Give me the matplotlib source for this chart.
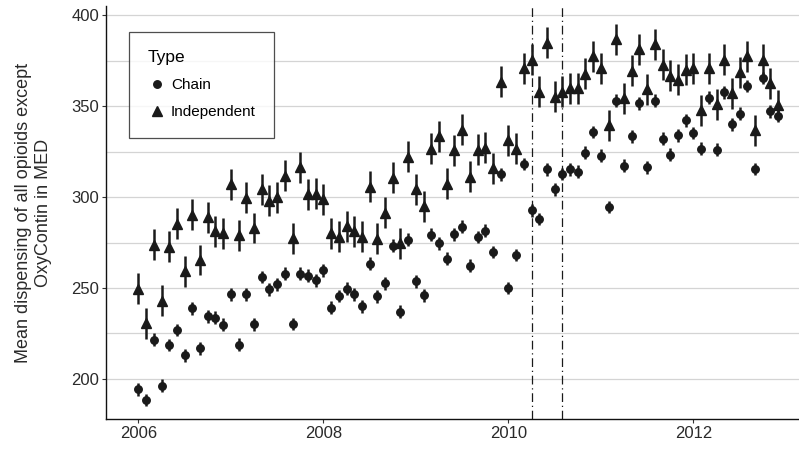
import matplotlib
matplotlib.use('Agg')
import matplotlib.pyplot as plt
from matplotlib.lines import Line2D
import pandas as pd

# monthly means, Jan 2006 - Dec 2012
months = pd.date_range('2006-01-01', '2012-12-01', freq='MS')

chain = [194.3, 188.5, 221.5, 196.3, 218.7, 226.9, 213.1, 238.9, 216.9, 234.4, 233.7, 229.8,
         246.5, 218.9, 246.5, 230.0, 256.1, 249.3, 252.0, 257.8, 230.2, 257.8, 256.7, 254.3,
         259.8, 239.1, 245.6, 249.6, 246.5, 240.0, 263.3, 245.4, 252.6, 273.3, 237.0, 276.5,
         253.7, 246.0, 279.3, 274.6, 266.1, 279.6, 283.7, 262.2, 278.0, 281.5, 269.8, 312.4,
         250.0, 268.1, 318.1, 292.8, 288.0, 315.2, 304.3, 312.6, 315.2, 313.9, 324.4, 335.7,
         322.8, 294.6, 353.0, 317.2, 333.3, 351.5, 316.3, 353.0, 332.1, 323.3, 333.9, 342.2,
         335.2, 326.5, 354.6, 326.1, 357.6, 340.0, 345.9, 361.1, 315.4, 365.4, 347.2, 344.6]

independent = [249.6, 230.7, 273.7, 243.1, 272.8, 285.4, 259.3, 290.4, 265.4, 288.9, 281.1, 280.2,
               307.0, 278.9, 299.6, 283.0, 304.3, 298.1, 300.0, 311.7, 277.4, 316.3, 301.5, 301.9,
               298.7, 280.2, 278.3, 283.9, 281.1, 278.3, 305.6, 277.0, 291.3, 310.7, 274.6, 322.2,
               304.3, 295.0, 326.5, 333.3, 307.4, 325.6, 337.0, 311.1, 325.9, 327.0, 315.9, 363.5,
               331.3, 326.5, 370.9, 375.6, 358.0, 384.8, 355.2, 358.0, 359.8, 359.8, 367.8, 377.4,
               370.9, 339.4, 386.7, 354.3, 369.5, 381.1, 359.3, 383.9, 372.8, 366.7, 364.4, 370.0,
               370.9, 347.8, 370.9, 351.1, 375.6, 357.1, 368.5, 377.4, 336.7, 375.6, 362.6, 350.6]

chain_se = 3.5
indep_se = 8.5

# reformulation approval / introduction
event_dates = ['2010-04-01', '2010-08-01']


def dec_year(d):
    d = pd.Timestamp(d)
    return d.year + (d.month - 1) / 12.0


x = [dec_year(d) for d in months]
events = [dec_year(d) for d in event_dates]

plt.rcParams['font.family'] = ['Liberation Sans', 'DejaVu Sans']

fig = plt.figure(figsize=(7.99, 4.49), dpi=100)
ax = fig.add_axes([0.1327, 0.0668, 0.881, 0.9198])

ink = '#1a1a1a'
ax.errorbar(x, chain, yerr=chain_se, fmt='o', ms=5.4, color=ink,
            elinewidth=1.8, capsize=0, zorder=3)
ax.errorbar(x, independent, yerr=indep_se, fmt='^', ms=7.8, color=ink,
            elinewidth=1.8, capsize=0, zorder=3)

for ev in events:
    ax.axvline(ev, color=ink, lw=0.9, ls=(0, (7, 3, 1, 3)), zorder=2)

ax.set_xlim(2005.65, 2013.26)
ax.set_ylim(178, 405)
ax.set_xticks([2006, 2008, 2010, 2012])
ax.set_yticks([200, 250, 300, 350, 400])
ax.set_yticks([225, 275, 325, 375], minor=True)
ax.grid(axis='y', which='both', color='#d4d4d4', lw=0.9)
ax.set_axisbelow(True)
ax.tick_params(axis='both', which='major', length=3, width=0.8, color='#333333',
               labelsize=12, labelcolor='#2a2a2a', pad=2)
ax.tick_params(axis='y', which='minor', length=0)

for s in ['top', 'right']:
    ax.spines[s].set_visible(False)
for s in ['left', 'bottom']:
    ax.spines[s].set_color('#111111')
    ax.spines[s].set_linewidth(1.0)

ax.set_ylabel('Mean dispensing of all opioids except\nOxyContin in MED',
              fontsize=13, color='#2a2a2a', labelpad=14, linespacing=1.25)

handles = [Line2D([], [], marker='o', ls='none', color=ink, ms=5.4),
           Line2D([], [], marker='^', ls='none', color=ink, ms=7.8)]
leg = ax.legend(handles, ['Chain', 'Independent'], title='Type',
                loc='upper left', bbox_to_anchor=(129 / 799, 1 - 32 / 449),
                bbox_transform=fig.transFigure, fontsize=11, title_fontsize=12.5,
                frameon=True, fancybox=False, edgecolor='#222222',
                borderpad=1.2, labelspacing=0.85, handletextpad=0.35,
                handlelength=1.2, borderaxespad=0, alignment='left')
leg.get_frame().set_linewidth(0.9)

fig.savefig('out.png', dpi=100)
